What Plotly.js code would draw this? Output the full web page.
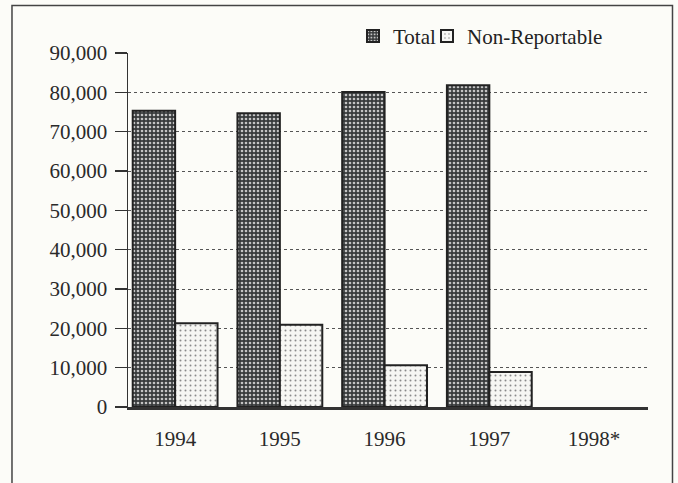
<!DOCTYPE html>
<html>
<head>
<meta charset="utf-8">
<script src="https://cdn.plot.ly/plotly-3.0.1.min.js"></script>
<style>
html,body{margin:0;padding:0;background:#fcfcf8;}
#chart{width:678px;height:483px;}
</style>
</head>
<body>
<div id="chart"></div>
<script>
var years = ['1994', '1995', '1996', '1997', '1998*'];
var totalValues = [75300, 74700, 80100, 81800, null];
var nonReportableValues = [21300, 20900, 10600, 8900, null];
var yTickValues = [0, 10000, 20000, 30000, 40000, 50000, 60000, 70000, 80000, 90000];
var yTickLabels = ['0', '10,000', '20,000', '30,000', '40,000', '50,000', '60,000', '70,000', '80,000', '90,000'];

var serif = '"Liberation Serif", "DejaVu Serif", serif';

var traces = [
  {
    type: 'bar', name: 'Total', x: years, y: totalValues, legend: 'legend',
    marker: {
      color: '#3b3e3f',
      line: {color: '#222', width: 2},
      pattern: {shape: '.', bgcolor: '#383b3c', fgcolor: '#c4c4c4', size: 4, solidity: 0.35, fillmode: 'replace'}
    },
    hoverinfo: 'x+y'
  },
  {
    type: 'bar', name: 'Non-Reportable', x: years, y: nonReportableValues, legend: 'legend2',
    marker: {
      color: '#f6f6f3',
      line: {color: '#222', width: 2},
      pattern: {shape: '.', bgcolor: '#f6f6f3', fgcolor: '#8a8a8a', size: 5, solidity: 0.12, fillmode: 'replace'}
    },
    hoverinfo: 'x+y'
  }
];

var legendFont = {family: serif, size: 21, color: '#222'};

var layout = {
  width: 678, height: 483,
  margin: {l: 128, r: 30, t: 53, b: 76},
  paper_bgcolor: '#fcfcf8',
  plot_bgcolor: '#fcfcf8',
  barmode: 'group',
  bargap: 0.19,
  bargroupgap: 0,
  font: {family: serif, size: 21, color: '#2a2a2a'},
  showlegend: true,
  legend: {
    orientation: 'h', x: 0.4327, xanchor: 'left', y: 1.105, yanchor: 'top',
    font: legendFont, bgcolor: 'rgba(0,0,0,0)', itemwidth: 30
  },
  legend2: {
    orientation: 'h', x: 0.575, xanchor: 'left', y: 1.105, yanchor: 'top',
    font: legendFont, bgcolor: 'rgba(0,0,0,0)', itemwidth: 30
  },
  xaxis: {
    type: 'category',
    range: [-0.45, 4.515],
    showgrid: false,
    showline: true, linecolor: '#333', linewidth: 2.5,
    ticks: '', ticklabelstandoff: 11,
    tickfont: {family: serif, size: 21, color: '#2a2a2a'},
    zeroline: false, fixedrange: true
  },
  yaxis: {
    range: [0, 90000],
    tickmode: 'array', tickvals: yTickValues, ticktext: yTickLabels,
    showgrid: true, gridcolor: '#555', gridwidth: 1, griddash: 'dot',
    showline: true, linecolor: '#333', linewidth: 1.5,
    ticks: 'outside', ticklen: 12, tickwidth: 1.5, tickcolor: '#333',
    ticklabelstandoff: 3,
    tickfont: {family: serif, size: 21, color: '#2a2a2a'},
    zeroline: false, fixedrange: true
  },
  shapes: [
    {type: 'rect', xref: 'paper', yref: 'paper', x0: -0.2231, x1: 1.0471, y0: -0.4, y1: 1.1342,
     line: {color: '#444', width: 1.5}, fillcolor: 'rgba(0,0,0,0)', layer: 'below'}
  ]
};

Plotly.newPlot('chart', traces, layout, {displayModeBar: false, staticPlot: true});
</script>
</body>
</html>
